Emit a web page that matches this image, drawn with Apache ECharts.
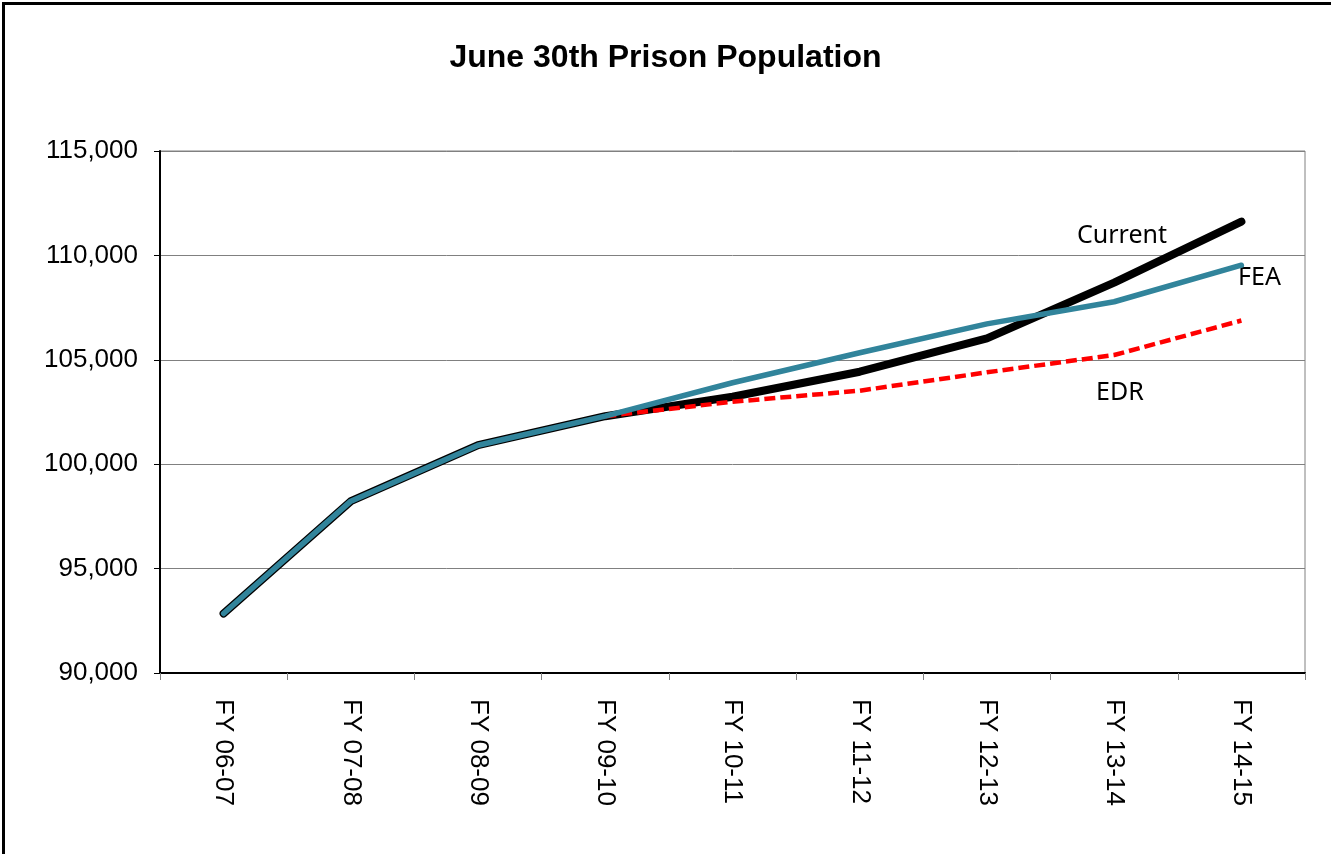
<!DOCTYPE html>
<html>
<head>
<meta charset="utf-8">
<script src="https://cdn.jsdelivr.net/npm/echarts@6/dist/echarts.min.js"></script>
<style>
  html, body { margin: 0; padding: 0; background: #fff; }
  #main { width: 1331px; height: 854px; }
  .frame { position: absolute; left: 2px; top: 2px; width: 1340px; height: 870px;
           border-left: 3px solid #000; border-top: 3px solid #000; pointer-events: none; }
</style>
</head>
<body>
<div id="main"></div>
<div class="frame"></div>
<script>
var years = ['FY 06-07', 'FY 07-08', 'FY 08-09', 'FY 09-10', 'FY 10-11',
             'FY 11-12', 'FY 12-13', 'FY 13-14', 'FY 14-15'];
var current = [92850, 98230, 100910, 102300, 103230, 104430, 106030, 108700, 111620];
var fea     = [92850, 98230, 100910, 102300, 103900, 105340, 106720, 107780, 109530];
var edr     = [null, null, null, 102300, 102990, 103520, 104400, 105230, 106880];

var myChart = echarts.init(document.getElementById('main'));

var option = {
  backgroundColor: '#fff',
  animation: false,
  title: {
    text: 'June 30th Prison Population',
    left: 'center',
    top: 37,
    textStyle: { fontFamily: 'Liberation Sans, Arial', fontSize: 32, fontWeight: 'bold', color: '#000' }
  },
  grid: {
    left: 160, right: 26, top: 151, bottom: 181,
    show: true, borderColor: '#808080', borderWidth: 1
  },
  xAxis: {
    type: 'category',
    data: years,
    boundaryGap: true,
    axisLine: { lineStyle: { color: '#000', width: 2 } },
    axisTick: { show: true, length: 7, lineStyle: { color: '#808080' } },
    axisLabel: {
      rotate: -90, margin: 26, color: '#000',
      fontFamily: 'Liberation Sans, Arial', fontSize: 26
    }
  },
  yAxis: {
    type: 'value',
    min: 90000, max: 115000, interval: 5000,
    axisLine: { show: true, lineStyle: { color: '#000', width: 2 } },
    axisTick: { show: true, length: 6, lineStyle: { color: '#000' } },
    splitLine: { lineStyle: { color: '#808080', width: 1 } },
    axisLabel: {
      margin: 22, color: '#000',
      fontFamily: 'Liberation Sans, Arial', fontSize: 26,
      formatter: function (v) { return v.toLocaleString('en-US'); }
    }
  },
  series: [
    {
      name: 'Current', type: 'line', data: current,
      symbol: 'none', z: 2,
      lineStyle: { color: '#000', width: 8, cap: 'round', join: 'round' }
    },
    {
      name: 'EDR', type: 'line', data: edr,
      symbol: 'none', z: 3,
      lineStyle: { color: '#ff0000', width: 4.5, type: [11, 5], cap: 'butt', join: 'round' }
    },
    {
      name: 'FEA', type: 'line', data: fea,
      symbol: 'none', z: 4,
      lineStyle: { color: '#31849b', width: 5.5, cap: 'round', join: 'round' }
    }
  ],
  graphic: [
    { type: 'text', left: 1077, top: 223,
      style: { text: 'Current', fontFamily: 'Noto Sans', fontSize: 25, fill: '#000' } },
    { type: 'text', left: 1238, top: 265,
      style: { text: 'FEA', fontFamily: 'Noto Sans', fontSize: 25, fill: '#000' } },
    { type: 'text', left: 1096, top: 380,
      style: { text: 'EDR', fontFamily: 'Noto Sans', fontSize: 25, fill: '#000' } }
  ]
};

myChart.setOption(option);
</script>
</body>
</html>
